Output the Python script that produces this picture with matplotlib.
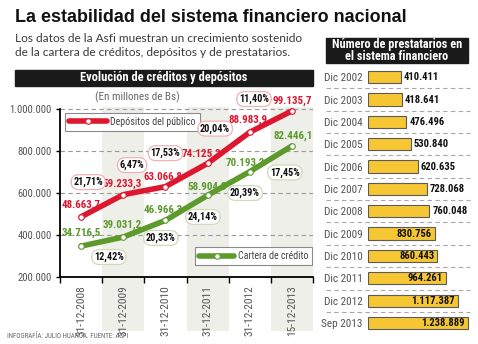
import os
import matplotlib
matplotlib.use('Agg')
import numpy as np
import matplotlib.pyplot as plt
from matplotlib import font_manager
from matplotlib.font_manager import FontProperties
from matplotlib.lines import Line2D
from matplotlib.patches import Rectangle

#%% Datos
fechas = ['31-12-2008', '31-12-2009', '31-12-2010', '31-12-2011', '31-12-2012', '15-12-2013']
depositos = [48663.7, 59233.3, 63066.8, 74125.2, 88983.9, 99135.7]
creditos = [34716.5, 39031.2, 46966.3, 58904.8, 70193.2, 82446.1]
crec_depositos = ['21,71%', '6,47%', '17,53%', '20,04%', '11,40%']
crec_creditos = ['12,42%', '20,33%', '24,14%', '20,39%', '17,45%']
ESCALA = 10  # el eje vertical va en decenas de la cifra rotulada

periodos = ['Dic 2002', 'Dic 2003', 'Dic 2004', 'Dic 2005', 'Dic 2006', 'Dic 2007',
            'Dic 2008', 'Dic 2009', 'Dic 2010', 'Dic 2011', 'Dic 2012', 'Sep 2013']
prestatarios = [410411, 418641, 476496, 530840, 620635, 728068,
                760048, 830756, 860443, 964261, 1117387, 1238889]

#%% Estilo
ROJO = '#de1730'
VERDE = '#5b9a2b'
AMARILLO = '#f6c733'
GRIS = '#555555'


def buscar_fuente(negrita):
    # fuente angosta si la hay, si no Liberation Sans
    archivos = [f.fname for f in font_manager.fontManager.ttflist]
    for clave in ['liberationsansnarrow', 'robotocondensed', 'dejavusanscondensed', 'opensanscondensed',
                  'opensans_condensed']:
        for a in archivos:
            n = os.path.basename(a).lower().replace('-', '')
            if clave not in n or 'italic' in n or 'oblique' in n:
                continue
            es_bold = 'bold' in n and 'semibold' not in n and 'extrabold' not in n
            if negrita == es_bold and ('light' not in n):
                if not negrita and ('regular' in n or n.endswith(clave + '.ttf')):
                    return a, True
                if negrita:
                    return a, True
    return None, False


f_bold, ok_b = buscar_fuente(True)
f_reg, ok_r = buscar_fuente(False)


def angosta(size, negrita=True):
    ruta, ok = (f_bold, ok_b) if negrita else (f_reg, ok_r)
    if ok:
        return FontProperties(fname=ruta, size=size)
    return FontProperties(family='Liberation Sans', weight='bold' if negrita else 'normal', size=size * 0.86)


NORMAL = 'Lato'

W, H = 478, 344
def fx(px):
    return px / W
def fy(py):
    return 1 - py / H

def miles(v, dec=0):
    s = f'{v:,.{dec}f}'
    return s.replace(',', '#').replace('.', ',').replace('#', '.')

fig = plt.figure(figsize=(W / 100, H / 100), dpi=100)
fig.patch.set_facecolor('white')

fig.text(fx(15), fy(17), 'La estabilidad del sistema financiero nacional',
         family='Liberation Sans', weight='bold', fontsize=12.9, va='center', ha='left', color='#111')
fig.text(fx(15), fy(38), 'Los datos de la Asfi muestran un crecimiento sostenido',
         family=NORMAL, fontsize=8.6, va='center', ha='left', color='#3a3a3a')
fig.text(fx(15), fy(53), 'de la cartera de créditos, depósitos y de prestatarios.',
         family=NORMAL, fontsize=8.6, va='center', ha='left', color='#3a3a3a')

# cabecera del gráfico de líneas
fig.patches.append(Rectangle((fx(15), fy(86)), fx(313) - fx(15), fy(70) - fy(86),
                             transform=fig.transFigure, color='#1a1a1a', zorder=1))
fig.text(fx(164), fy(78), 'Evolución de créditos y depósitos', fontproperties=angosta(9),
         color='white', ha='center', va='center', zorder=2)
fig.text(fx(137), fy(97), '(En millones de Bs)', fontproperties=angosta(8, False),
         color='#666', ha='center', va='center')

#%% Evolución de créditos y depósitos
ax = fig.add_axes([fx(60), fy(277), fx(313) - fx(60), fy(107) - fy(277)])
x = np.arange(len(fechas))
dep = np.array(depositos) * ESCALA
cre = np.array(creditos) * ESCALA
ax.set_xlim(-0.5, len(fechas) - 0.5)
ax.set_ylim(200000, 1010000)

for i in range(1, len(fechas), 2):
    ax.axvspan(i - 0.5, i + 0.5, ymin=-0.32, ymax=1, color='#efefe9', zorder=0, clip_on=False, lw=0)

ax.set_yticks([200000, 400000, 600000, 800000, 1000000])
ax.set_yticklabels([miles(v) for v in ax.get_yticks()], fontproperties=angosta(7.7, False), color=GRIS)
ax.yaxis.grid(True, linestyle=(0, (4, 3)), color='#9a9a9a', lw=0.8)
ax.set_axisbelow(True)
ax.tick_params(axis='y', length=3, width=1, pad=3)

ax.set_xticks(x)
ax.set_xticklabels(fechas, rotation=90, fontproperties=angosta(8.2, False), color=GRIS)
ax.set_xticks(np.arange(-0.5, len(fechas)), minor=True)
ax.tick_params(axis='x', which='major', length=0, pad=6)
ax.tick_params(axis='x', which='minor', length=4, width=1)
for lado in ['top', 'right']:
    ax.spines[lado].set_visible(False)
ax.spines['left'].set_bounds(200000, 1000000)
ax.spines['left'].set_linewidth(1.3)
ax.spines['bottom'].set_linewidth(1.3)

estilo_dep = dict(color=ROJO, lw=4, solid_capstyle='round', marker='o', ms=4,
                  mfc='white', mec=ROJO, mew=0.8)
estilo_cre = dict(color=VERDE, lw=4, solid_capstyle='round', marker='o', ms=4,
                  mfc='white', mec=VERDE, mew=0.8)
ax.plot(x, dep, zorder=4, clip_on=False, **estilo_dep)
ax.plot(x, cre, zorder=4, clip_on=False, **estilo_cre)

# rótulos de valor (desplazamientos en píxeles)
desp_dep = [(0, 12), (-1, 11), (-2, 10), (-6, 10), (-2, 12), (0, 10)]
desp_cre = [(0, 13), (-1, 12), (-2, 11), (-1, 9), (-4, 9), (1, 10)]
for i in range(len(fechas)):
    ax.annotate(miles(depositos[i], 1), (x[i], dep[i]), xytext=desp_dep[i], textcoords='offset pixels',
                ha='center', va='center', fontproperties=angosta(7.9),
                color=ROJO, zorder=6, annotation_clip=False)
    ax.annotate(miles(creditos[i], 1), (x[i], cre[i]), xytext=desp_cre[i], textcoords='offset pixels',
                ha='center', va='center', fontproperties=angosta(7.9),
                color=VERDE, zorder=6, annotation_clip=False)

# crecimiento anual en óvalos
pos_dep = [(0.17, 652000), (1.21, 733000), (2.0, 790000), (3.18, 907000), (4.1, 1048000)]
pos_cre = [(0.66, 295000), (1.89, 386000), (2.89, 486000), (3.89, 600000), (4.83, 698000)]
ovalo = 'round,pad=0.22,rounding_size=0.75'
for (px_, py_), t in zip(pos_dep, crec_depositos):
    ax.text(px_, py_, t, ha='center', va='center', fontproperties=angosta(7.4),
            color='#111', zorder=7, clip_on=False,
            bbox=dict(boxstyle=ovalo, fc='white', ec='#efb3b3', lw=0.9))
for (px_, py_), t in zip(pos_cre, crec_creditos):
    ax.text(px_, py_, t, ha='center', va='center', fontproperties=angosta(7.4),
            color='#111', zorder=7, clip_on=False,
            bbox=dict(boxstyle=ovalo, fc='white', ec='#cfdcb8', lw=0.9))

h_dep = Line2D([], [], **estilo_dep)
h_cre = Line2D([], [], **estilo_cre)
leyenda = dict(frameon=True, fancybox=False, framealpha=1, edgecolor='#8a8a8a', borderpad=0.4,
               handletextpad=0.35, borderaxespad=0, numpoints=1,
               bbox_transform=fig.transFigure, loc='upper left',
               prop=angosta(7.2, False))
leg1 = ax.legend([h_dep], ['Depósitos del público'], bbox_to_anchor=(fx(65), fy(113)),
                 handlelength=3.8, **leyenda)
leg1.get_frame().set_linewidth(0.8)
for t in leg1.get_texts():
    t.set_color('#444')
ax.add_artist(leg1)
leg2 = ax.legend([h_cre], ['Cartera de crédito'], bbox_to_anchor=(fx(195), fy(247)),
                 handlelength=3.5, **leyenda)
leg2.get_frame().set_linewidth(0.8)
for t in leg2.get_texts():
    t.set_color('#444')

fig.text(fx(7), fy(337), 'INFOGRAFÍA: JULIO HUANCA. FUENTE: ASFI', fontproperties=angosta(5.0, False),
         color='#666', ha='left', va='center')

#%% Número de prestatarios
fig.patches.append(Rectangle((fx(326), fy(63)), fx(468) - fx(326), fy(38) - fy(63),
                             transform=fig.transFigure, color='#1a1a1a', zorder=1))
fig.text(fx(397), fy(44.5), 'Número de prestatarios en', fontproperties=angosta(8.8),
         color='white', ha='center', va='center', zorder=2)
fig.text(fx(397), fy(56.5), 'el sistema financiero', fontproperties=angosta(8.8),
         color='white', ha='center', va='center', zorder=2)

ax2 = fig.add_axes([fx(368), fy(334.2), fx(470) - fx(368), fy(66) - fy(334.2)])
y2 = np.arange(len(periodos))
ax2.barh(y2, prestatarios, height=0.55, color=AMARILLO, edgecolor='#5a5a5a', lw=0.8, zorder=3)
ax2.set_xlim(0, 1267000)
ax2.set_ylim(len(periodos) - 0.5, -0.5)
ax2.set_yticks(y2)
ax2.set_yticklabels(periodos, fontproperties=angosta(8.1, False), color=GRIS)
ax2.tick_params(axis='y', length=0, pad=4)
ax2.set_xticks([])
for lado in ax2.spines:
    ax2.spines[lado].set_visible(False)
ax2.hlines(y2[:-1] + 0.5, -0.41, 1, transform=ax2.get_yaxis_transform(), clip_on=False,
           linestyles=(0, (4, 3)), colors='#a8a8a8', lw=0.8)

for i, v in enumerate(prestatarios):
    dentro = i >= 7
    ax2.annotate(miles(v), (v, y2[i]), xytext=(-3 if dentro else 3, 0), textcoords='offset pixels',
                 ha='right' if dentro else 'left', va='center', fontproperties=angosta(7.6),
                 color='#111', zorder=5, annotation_clip=False)

fig.savefig('out.png', dpi=100)
